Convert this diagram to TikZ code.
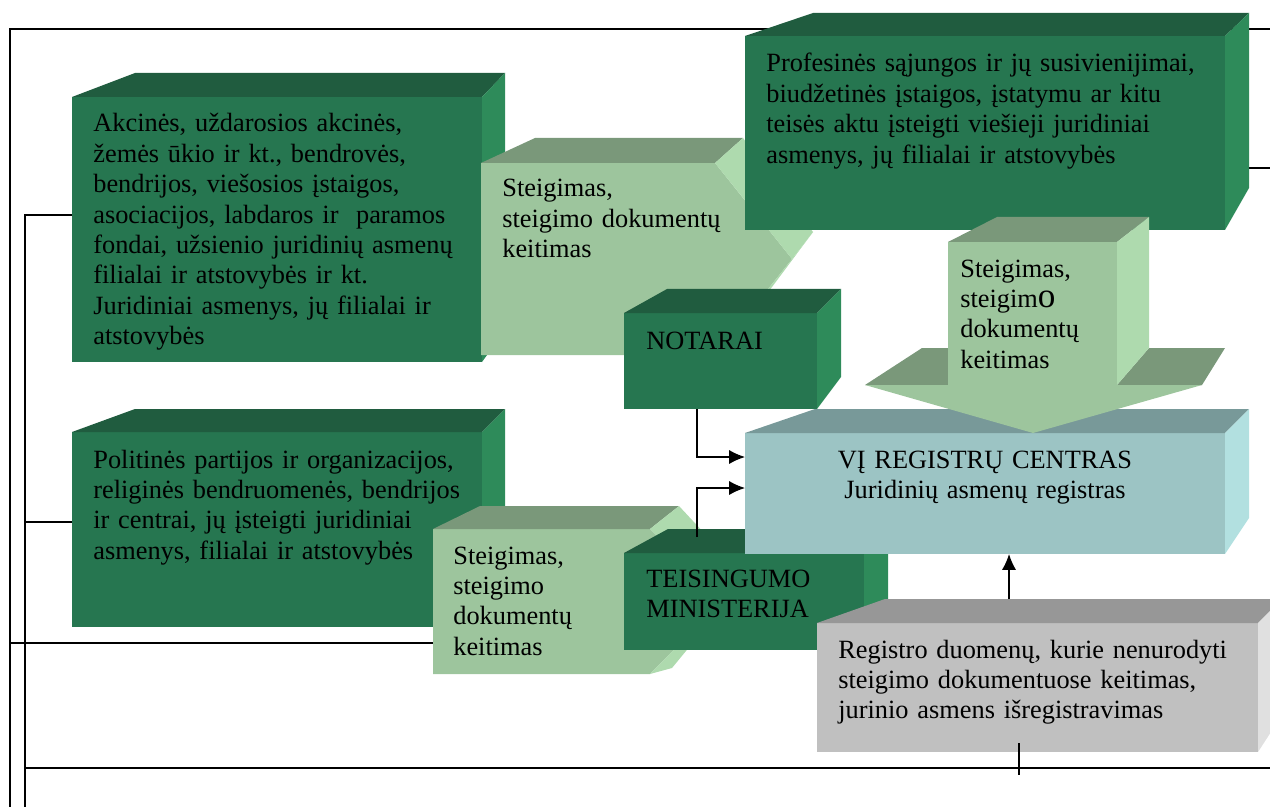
\documentclass[tikz,border=0pt]{standalone}
\usepackage{fontspec}
\setmainfont{Liberation Serif}
\usetikzlibrary{arrows.meta,calc,fit}
\definecolor{dgfront}{RGB}{38,118,80}
\definecolor{dgtop}{RGB}{32,92,63}
\definecolor{dgside}{RGB}{46,139,90}
\definecolor{lgfront}{RGB}{157,197,157}
\definecolor{lgtop}{RGB}{122,152,122}
\definecolor{lgside}{RGB}{174,218,174}
\definecolor{bfront}{RGB}{156,196,196}
\definecolor{btop}{RGB}{120,153,153}
\definecolor{bside}{RGB}{178,224,224}
\definecolor{gfront}{RGB}{192,192,192}
\definecolor{gtop}{RGB}{151,151,151}
\definecolor{gside}{RGB}{224,224,224}

\begin{document}
\begin{tikzpicture}[x=0.02cm,y=-0.02cm,
    face/.style={inner sep=0pt, outer sep=0pt},
    txt/.style={inner sep=0pt, text width=9.5cm, align=left, anchor=base west, font={\fontsize{15}{17.3}\selectfont}},
    frameline/.style={line width=0.9pt},
    conn/.style={line width=0.75pt, ->, >={Latex[length=9pt,width=8pt]}}]
    \useasboundingbox (0,0) rectangle (1270,807);

    % outer lines
    \draw[frameline] (1270,29) -- (10,29) -- (10,807);
    \draw[frameline] (25,807) -- (25,215) -- (72,215);
    \draw[frameline] (25,522) -- (72,522);
    \draw[line width=1.3pt] (10,643) -- (433,643);
    \draw[frameline] (25,768) -- (1270,768);
    \draw[frameline] (1249,168) -- (1270,168);

    % Akcines
    \node[face, fill=dgfront, fit={(72,97) (482,362)}] (akc) {};
    \fill[dgtop] (akc.north west) -- (135,73) -- (505,73) -- (akc.north east) -- cycle;
    \fill[dgside] (akc.north east) -- (505,73) -- (505,330) -- (akc.south east) -- cycle;
    \node[txt] (akct) at ($(akc.north west)+(21,35)$) {Akcinės, uždarosios akcinės,\\žemės ūkio ir kt., bendrovės,\\bendrijos, viešosios įstaigos,\\asociacijos, labdaros ir~ paramos\\fondai, užsienio juridinių asmenų\\filialai ir atstovybės ir kt.\\Juridiniai asmenys, jų filialai ir\\atstovybės};

    % Politines
    \node[face, fill=dgfront, fit={(72,432) (482,627)}] (pol) {};
    \fill[dgtop] (pol.north west) -- (135,409) -- (505,409) -- (pol.north east) -- cycle;
    \fill[dgside] (pol.north east) -- (505,409) -- (505,595) -- (pol.south east) -- cycle;
    \node[txt] (polt) at ($(pol.north west)+(21,36)$) {Politinės partijos ir organizacijos,\\religinės bendruomenės, bendrijos\\ir centrai, jų įsteigti juridiniai\\asmenys, filialai ir atstovybės};

    % Steigimas 1
    \fill[lgfront] (481,163) -- (715,163) -- (792,259) -- (715,355) -- (481,355) -- cycle;
    \fill[lgtop] (481,163) -- (535,138) -- (743,138) -- (715,163) -- cycle;
    \fill[lgside] (715,163) -- (743,138) -- (813,232) -- (792,259) -- cycle;
    \fill[lgside] (792,259) -- (813,232) -- (740,330) -- (715,355) -- cycle;
    \node[txt] (st1) at (502,197) {Steigimas,\\steigimo dokumentų\\keitimas};

    % Steigimas 2
    \fill[lgfront] (433,529) -- (650,529) -- (722,601) -- (650,674) -- (433,674) -- cycle;
    \fill[lgtop] (433,529) -- (480,506) -- (679,506) -- (650,529) -- cycle;
    \fill[lgside] (650,529) -- (679,506) -- (746,578) -- (722,601) -- cycle;
    \fill[lgside] (722,601) -- (746,578) -- (672,668) -- (650,674) -- cycle;
    \node[txt] (st2) at (453,564) {Steigimas,\\steigimo\\dokumentų\\keitimas};

    % Profesines
    \node[face, fill=dgfront, fit={(745,36) (1225,230)}] (prof) {};
    \fill[dgtop] (prof.north west) -- (813,13) -- (1249,13) -- (prof.north east) -- cycle;
    \fill[dgside] (prof.north east) -- (1249,13) -- (1249,188) -- (prof.south east) -- cycle;
    \node[txt] (proft) at ($(prof.north west)+(21,36)$) {Profesinės sąjungos ir jų susivienijimai,\\biudžetinės įstaigos, įstatymu ar kitu\\teisės aktu įsteigti viešieji juridiniai\\asmenys, jų filialai ir atstovybės};

    % Notarai
    \node[face, fill=dgfront, fit={(624,313) (817,409)}] (notarai) {};
    \fill[dgtop] (notarai.north west) -- (667,289) -- (841,289) -- (notarai.north east) -- cycle;
    \fill[dgside] (notarai.north east) -- (841,289) -- (841,377) -- (notarai.south east) -- cycle;
    \node[txt] (notarait) at ($(notarai.north west)+(22,36)$) {NOTARAI};

    % Teisingumo ministerija
    \node[face, fill=dgfront, fit={(624,553) (864,650)}] (teis) {};
    \fill[dgtop] (teis.north west) -- (668,529) -- (888,529) -- (teis.north east) -- cycle;
    \fill[dgside] (teis.north east) -- (888,529) -- (888,620) -- (teis.south east) -- cycle;
    \node[txt] (teist) at ($(teis.north west)+(22,34)$) {TEISINGUMO\\MINISTERIJA};

    % Registru centras
    \node[face, fill=bfront, fit={(745,433) (1225,554)}] (vi) {};
    \fill[btop] (vi.north west) -- (815,409) -- (1249,409) -- (vi.north east) -- cycle;
    \fill[bside] (vi.north east) -- (1249,409) -- (1249,518) -- (vi.south east) -- cycle;
    \node[txt, text width=8cm, align=center, anchor=base] (vit) at ($(vi.north)+(0,35)$) {VĮ REGISTRŲ CENTRAS\\Juridinių asmenų registras};

    % Steigimas 3 (down)
    \fill[lgtop] (865,385) -- (922,348) -- (948,348) -- (948,385) -- cycle;
    \fill[lgtop] (1117,385) -- (1149,348) -- (1225,348) -- (1202,385) -- cycle;
    \fill[lgfront] (948,242) -- (1117,242) -- (1117,385) -- (1202,385) -- (1033,433) -- (865,385) -- (948,385) -- cycle;
    \fill[lgtop] (948,242) -- (997,217) -- (1149,217) -- (1117,242) -- cycle;
    \fill[lgside] (1117,242) -- (1149,217) -- (1149,348) -- (1117,385) -- cycle;
    \node[txt] (st3) at (960,277) {Steigimas,\\steigim{\fontsize{20}{17.3}\selectfont o}\\dokumentų\\keitimas};

    % Registro duomenu
    \node[face, fill=gfront, fit={(817,623) (1258,752)}] (reg) {};
    \fill[gtop] (reg.north west) -- (885,599) -- (1282,599) -- (reg.north east) -- cycle;
    \fill[gside] (reg.north east) -- (1282,599) -- (1282,715) -- (reg.south east) -- cycle;
    \node[txt] (regt) at ($(reg.north west)+(21,35)$) {Registro duomenų, kurie nenurodyti\\steigimo dokumentuose keitimas,\\jurinio asmens išregistravimas};

    % arrows
    \draw[conn] ($(notarai.south west)+(73,0)$) |- ($(vi.north west)+(0,24)$);
    \draw[conn] ($(teis.north west)+(73,-16)$) |- ($(vi.north west)+(0,55)$);
    \draw[conn] ($(reg.north west)+(192,-24)$) -- ($(vi.south west)+(264,0)$);
    \draw[line width=0.75pt] ($(reg.south west)+(202,-9)$) -- ++(0,32);
\end{tikzpicture}
\end{document}
